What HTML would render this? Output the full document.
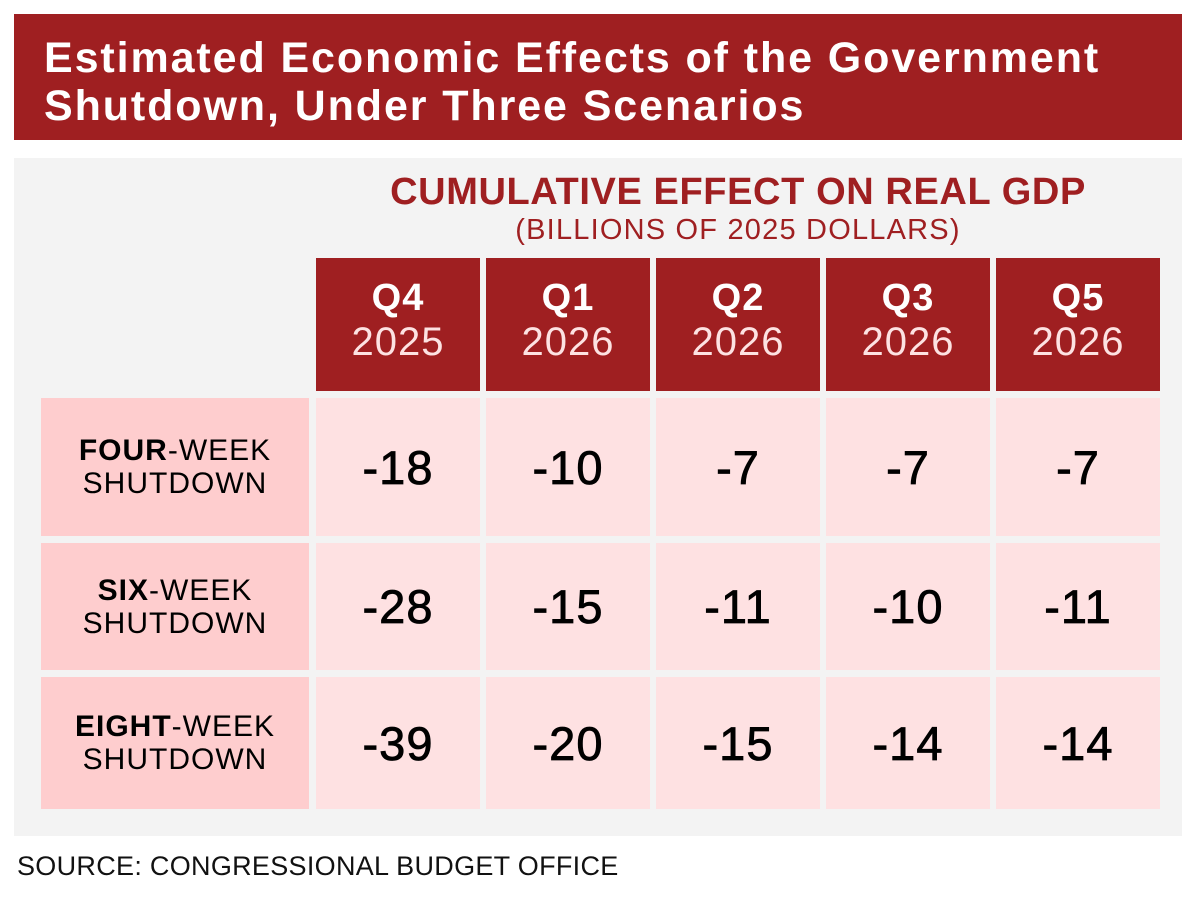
<!DOCTYPE html>
<html><head><meta charset="utf-8"><style>
body{margin:0;width:1200px;height:900px;background:#fff;position:relative;overflow:hidden;font-family:"Liberation Sans",sans-serif}
.a{position:absolute;box-sizing:border-box}
#title{left:14px;top:14px;width:1168px;height:126px;background:#9f1f21;color:#fff;font-weight:bold;font-size:43px;letter-spacing:1.9px;line-height:48px;padding:20px 0 0 30px}
#panel{left:14px;top:158px;width:1168px;height:678px;background:#f3f3f3}
.hdr{background:#9f1f21;color:#fff;text-align:center;font-weight:bold;font-size:38px;line-height:44px;padding-top:18px;letter-spacing:1px}
.hdr span{display:block;font-weight:normal;color:#fde2e2;font-size:40px}
.lab{background:#fecdce;text-align:center;font-size:30px;letter-spacing:1px;line-height:33px;display:flex;align-items:center;justify-content:center}
.cell{background:#fee1e2;text-align:center;font-size:47px;-webkit-text-stroke:0.8px #000;letter-spacing:1px;display:flex;align-items:center;justify-content:center}
</style></head><body>
<div class="a" id="title">Estimated Economic Effects of the Government<br>Shutdown, Under Three Scenarios</div>
<div class="a" id="panel"></div>
<div class="a" style="left:316px;width:844px;top:171px;text-align:center;color:#9f1f21;font-weight:bold;font-size:38px;letter-spacing:0.6px">CUMULATIVE EFFECT ON REAL GDP</div>
<div class="a" style="left:316px;width:844px;top:214px;text-align:center;color:#9f1f21;font-size:29px;letter-spacing:1.2px">(BILLIONS OF 2025 DOLLARS)</div>
<div class="a" style="left:17px;top:851px;font-size:27px;letter-spacing:0.3px;color:#111">SOURCE: CONGRESSIONAL BUDGET OFFICE</div>
<div id="tbl"></div>
<script>
const quarters=["Q4","Q1","Q2","Q3","Q5"];
const years=["2025","2026","2026","2026","2026"];
const scenarioBold=["FOUR","SIX","EIGHT"];
const four=[-18,-10,-7,-7,-7];
const six=[-28,-15,-11,-10,-11];
const eight=[-39,-20,-15,-14,-14];
const series=[four,six,eight];
const colX=[316,486,656,826,996],colW=164;
const rowY=[398,543,677],rowH=[138,127,132];
const t=document.getElementById('tbl');
function mk(cls,x,y,w,h,html){const d=document.createElement('div');d.className='a '+cls;d.style.left=x+'px';d.style.top=y+'px';d.style.width=w+'px';d.style.height=h+'px';d.innerHTML=html;t.appendChild(d);return d;}
quarters.forEach((q,i)=>{const d=mk('hdr',colX[i],258,colW,133,q+'<span>'+years[i]+'</span>');

});
series.forEach((s,r)=>{const l=mk('lab',41,rowY[r],268,rowH[r],'<div><b>'+scenarioBold[r]+'</b>-WEEK<br>SHUTDOWN</div>');


s.forEach((v,i)=>{const c=mk('cell',colX[i],rowY[r],colW,rowH[r],String(v));

});});
</script>
</body></html>
